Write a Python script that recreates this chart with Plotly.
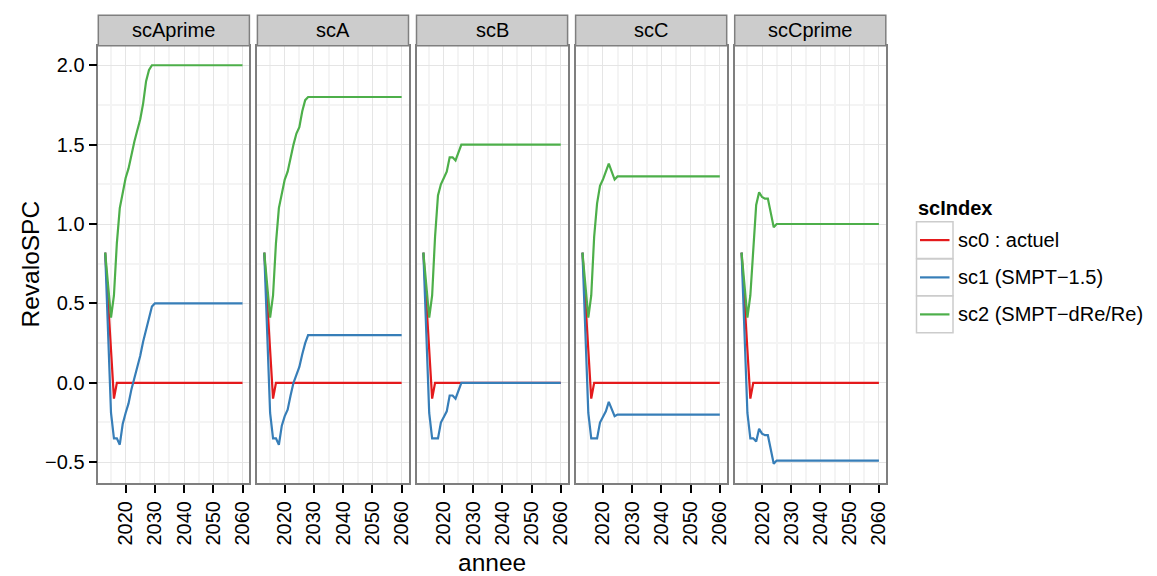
import plotly.graph_objects as go

# ---- data -------------------------------------------------------------
years = [2013, 2014, 2015, 2016, 2017, 2018, 2019, 2020, 2021, 2022,
         2023, 2024, 2025, 2026, 2027, 2028, 2029, 2030, 2060]

panels = ["scAprime", "scA", "scB", "scC", "scCprime"]

series_names = ["sc0 : actuel", "sc1 (SMPT\u22121.5)", "sc2 (SMPT\u2212dRe/Re)"]
series_colors = ["#E41A1C", "#377EB8", "#4DAF4A"]

# sc0 is identical in every scenario panel
sc0_actuel = [0.82, 0.51, 0.21, -0.10, 0.00, 0.00, 0.00, 0.00, 0.00, 0.00,
              0.00, 0.00, 0.00, 0.00, 0.00, 0.00, 0.00, 0.00, 0.00]

sc1_scAprime = [0.82, 0.33, -0.19, -0.35, -0.35, -0.39, -0.26, -0.19, -0.13, -0.04,
                0.03, 0.11, 0.17, 0.26, 0.34, 0.42, 0.48, 0.50, 0.50]
sc2_scAprime = [0.82, 0.63, 0.41, 0.55, 0.88, 1.10, 1.20, 1.29, 1.35, 1.44,
                1.52, 1.59, 1.66, 1.76, 1.90, 1.97, 2.00, 2.00, 2.00]

sc1_scA = [0.82, 0.33, -0.19, -0.35, -0.35, -0.39, -0.27, -0.21, -0.17, -0.08,
           0.00, 0.05, 0.10, 0.18, 0.25, 0.30, 0.30, 0.30, 0.30]
sc2_scA = [0.82, 0.63, 0.41, 0.55, 0.88, 1.10, 1.18, 1.28, 1.33, 1.42,
           1.50, 1.57, 1.61, 1.71, 1.78, 1.80, 1.80, 1.80, 1.80]

sc1_scB = [0.82, 0.33, -0.19, -0.35, -0.35, -0.35, -0.25, -0.21, -0.18, -0.08,
           -0.08, -0.10, -0.05, 0.00, 0.00, 0.00, 0.00, 0.00, 0.00]
sc2_scB = [0.82, 0.63, 0.41, 0.55, 0.92, 1.18, 1.25, 1.29, 1.33, 1.42,
           1.42, 1.40, 1.45, 1.50, 1.50, 1.50, 1.50, 1.50, 1.50]

sc1_scC = [0.82, 0.33, -0.19, -0.35, -0.35, -0.35, -0.25, -0.21, -0.18, -0.12,
           -0.17, -0.21, -0.20, -0.20, -0.20, -0.20, -0.20, -0.20, -0.20]
sc2_scC = [0.82, 0.63, 0.41, 0.55, 0.92, 1.13, 1.24, 1.28, 1.33, 1.38,
           1.33, 1.28, 1.30, 1.30, 1.30, 1.30, 1.30, 1.30, 1.30]

sc1_scCprime = [0.82, 0.33, -0.19, -0.35, -0.35, -0.37, -0.29, -0.32, -0.33, -0.33,
                -0.42, -0.51, -0.49, -0.49, -0.49, -0.49, -0.49, -0.49, -0.49]
sc2_scCprime = [0.82, 0.63, 0.41, 0.55, 0.85, 1.12, 1.20, 1.17, 1.16, 1.16,
                1.07, 0.98, 1.00, 1.00, 1.00, 1.00, 1.00, 1.00, 1.00]

x_ticks = [2020, 2030, 2040, 2050, 2060]
x_minor = [2015, 2025, 2035, 2045, 2055]
y_ticks = [-0.5, 0.0, 0.5, 1.0, 1.5, 2.0]
y_ticklabels = ["\u22120.5", "0.0", "0.5", "1.0", "1.5", "2.0"]
y_minor = [-0.25, 0.25, 0.75, 1.25, 1.75]

panel_series = {
    "scAprime": [sc0_actuel, sc1_scAprime, sc2_scAprime],
    "scA": [sc0_actuel, sc1_scA, sc2_scA],
    "scB": [sc0_actuel, sc1_scB, sc2_scB],
    "scC": [sc0_actuel, sc1_scC, sc2_scC],
    "scCprime": [sc0_actuel, sc1_scCprime, sc2_scCprime],
}

# ---- geometry (pixels of a 1157x576 page) -----------------------------
W, H = 1157, 576
FONT = "Liberation Sans, Arial, Helvetica, sans-serif"
GREY50 = "#7F7F7F"
GRID_MAJOR = "#E5E5E5"
GRID_MINOR = "#F4F4F4"

panel_left0, panel_w, panel_gap = 98.3, 151.1, 8.0
plot_top, plot_bottom, strip_top = 45.7, 483.3, 15.3

x_range = [2010.65, 2062.35]
y_range = [-0.633, 2.123]


def fx(p):
    return p / W


def fy(p):
    return 1 - p / H


fig = go.Figure()
layout = dict(
    width=W, height=H,
    margin=dict(l=0, r=0, t=0, b=0),
    paper_bgcolor="white", plot_bgcolor="white",
    font=dict(family=FONT, color="black"),
    showlegend=False,
)

shapes = []
annotations = []

for i, name in enumerate(panels):
    sfx = "" if i == 0 else str(i + 1)
    left = panel_left0 + i * (panel_w + panel_gap)
    right = left + panel_w

    layout["xaxis" + sfx] = dict(
        domain=[fx(left), fx(right)], anchor="y" + sfx, range=x_range,
        tickmode="array", tickvals=x_ticks, ticktext=[str(v) for v in x_ticks],
        tickangle=-90, ticks="outside", ticklen=8, tickwidth=1.5, tickcolor="black",
        tickfont=dict(size=20, color="black", family=FONT),
        showline=True, linecolor=GREY50, linewidth=1.5, mirror=True,
        showgrid=True, gridcolor=GRID_MAJOR, gridwidth=1,
        minor=dict(tickvals=x_minor, showgrid=True, gridcolor=GRID_MINOR, gridwidth=2, ticks=""),
        zeroline=False, automargin=False,
    )
    layout["yaxis" + sfx] = dict(
        domain=[fy(plot_bottom), fy(plot_top)], anchor="x" + sfx, range=y_range,
        tickmode="array", tickvals=y_ticks, ticktext=y_ticklabels,
        showticklabels=(i == 0), ticks="outside" if i == 0 else "",
        ticklen=8, tickwidth=1.5, tickcolor="black",
        tickfont=dict(size=20, color="black", family=FONT),
        showline=True, linecolor=GREY50, linewidth=1.5, mirror=True,
        showgrid=True, gridcolor=GRID_MAJOR, gridwidth=1,
        minor=dict(tickvals=y_minor, showgrid=True, gridcolor=GRID_MINOR, gridwidth=2, ticks=""),
        zeroline=False, automargin=False,
    )

    for values, sname, color in zip(panel_series[name], series_names, series_colors):
        fig.add_trace(go.Scatter(
            x=years, y=values, mode="lines", name=sname,
            line=dict(color=color, width=2.2),
            xaxis="x" + sfx, yaxis="y" + sfx, showlegend=False,
        ))

    # facet strip
    shapes.append(dict(type="rect", xref="paper", yref="paper",
                       x0=fx(left), x1=fx(right), y0=fy(plot_top), y1=fy(strip_top),
                       fillcolor="#CCCCCC", line=dict(color=GREY50, width=1.5), layer="above"))
    annotations.append(dict(text=name, xref="paper", yref="paper",
                            x=fx((left + right) / 2), y=fy(30.5),
                            xanchor="center", yanchor="middle", showarrow=False,
                            font=dict(size=20, color="black", family=FONT)))

# axis titles
annotations.append(dict(text="RevaloSPC", xref="paper", yref="paper",
                        x=fx(30), y=fy((plot_top + plot_bottom) / 2), textangle=-90,
                        xanchor="center", yanchor="middle", showarrow=False,
                        font=dict(size=24.5, color="black", family=FONT)))
annotations.append(dict(text="annee", xref="paper", yref="paper",
                        x=fx((panel_left0 + panel_left0 + 4 * (panel_w + panel_gap) + panel_w) / 2),
                        y=fy(562), xanchor="center", yanchor="middle", showarrow=False,
                        font=dict(size=24.5, color="black", family=FONT)))

# legend
annotations.append(dict(text="<b>scIndex</b>", xref="paper", yref="paper",
                        x=fx(915.5), y=fy(207.5), xanchor="left", yanchor="middle",
                        showarrow=False, font=dict(size=20, color="black", family=FONT)))
key_tops = [221.7, 259.0, 296.0]
key_h = 36.8
for top, sname, color in zip(key_tops, series_names, series_colors):
    cy = top + key_h / 2
    shapes.append(dict(type="rect", xref="paper", yref="paper",
                       x0=fx(916.5), x1=fx(953.0), y0=fy(top + key_h), y1=fy(top),
                       fillcolor="white", line=dict(color="#CCCCCC", width=1.5)))
    shapes.append(dict(type="line", xref="paper", yref="paper",
                       x0=fx(920.0), x1=fx(949.5), y0=fy(cy), y1=fy(cy),
                       line=dict(color=color, width=2.2)))
    annotations.append(dict(text=sname, xref="paper", yref="paper",
                            x=fx(956.0), y=fy(cy), xanchor="left", yanchor="middle",
                            showarrow=False, font=dict(size=20, color="black", family=FONT)))

layout["shapes"] = shapes
layout["annotations"] = annotations
fig.update_layout(**layout)

fig.write_html("out.html")
